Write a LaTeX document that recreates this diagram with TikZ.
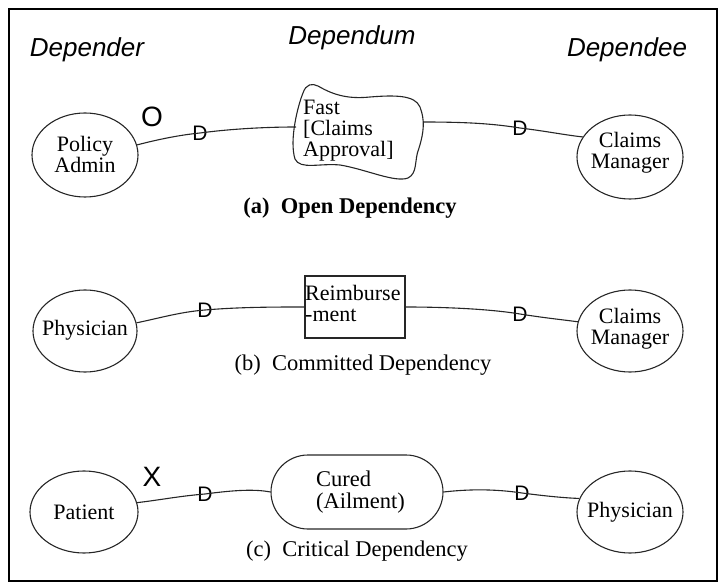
\documentclass[tikz,border=0pt]{standalone}
\usepackage{fontspec}
\setmainfont{Liberation Serif}
\newfontfamily\labelsans{Liberation Sans}
\usetikzlibrary{shapes.geometric,shapes.misc}

\begin{document}
\begin{tikzpicture}[x=1pt,y=-1pt,
  actor/.style={draw=black!85, line width=1.1pt, ellipse, minimum width=106pt, minimum height=84pt, inner sep=0pt},
  nodetext/.style={font=\fontsize{22}{21}\selectfont, align=center, inner sep=0pt},
  lefttext/.style={font=\fontsize{22}{21}\selectfont, align=left, inner sep=0pt, anchor=west},
  caption/.style={font=\fontsize{22.5}{26}\selectfont, inner sep=0pt},
  role/.style={font=\labelsans\itshape\fontsize{26}{30}\selectfont, inner sep=0pt},
  dmark/.style={font=\labelsans\fontsize{21}{22}\selectfont, inner sep=0pt},
  degree/.style={font=\labelsans\fontsize{28}{30}\selectfont, inner sep=0pt},
  link/.style={draw=black!85, line width=1.1pt},
]
\useasboundingbox (0,0) rectangle (724,583);
\draw[line width=2pt] (9,9) rectangle (717,581);

% column headings
\node[role] (hdr1) at (87,50) {Depender};
\node[role] (hdr2) at (352,38) {Dependum};
\node[role] (hdr3) at (627,50) {Dependee};

% (a) open dependency
\node[actor] (pa) at (85,155) {};
\node[nodetext] (pat) at (85,154) {Policy\\Admin};
\draw[link] (295,159) .. controls (289,140) and (298,105) .. (303,93)
  .. controls (306,84) and (312,83) .. (318,86)
  .. controls (335,96) and (350,99) .. (370,97)
  .. controls (395,95) and (415,95) .. (420,107)
  .. controls (425,120) and (424,132) .. (419,148)
  .. controls (414,160) and (418,173) .. (408,178)
  .. controls (395,183) and (365,169) .. (340,165)
  .. controls (320,163) and (300,170) .. (295,159) -- cycle;
\coordinate (cl) at (296,127);
\coordinate (cr) at (423,122);
\node[lefttext] (cloudt) at (303,131) {Fast\\{[}Claims\\Approval{]}};
\node[actor] (cma) at (630,157) {};
\node[nodetext] (cmat) at (630,153) {Claims\\Manager};
\node[dmark] (d1) at (200,133) {D};
\node[dmark] (d2) at (520,128) {D};
\node[degree] (mo) at (152,117) {O};
\draw[link] (pa.11) .. controls (160,139) and (180,135) .. (d1.center)
  .. controls (230,129) and (265,127) .. (cl);
\draw[link] (cr) .. controls (470,122) and (495,124) .. (d2.center)
  .. controls (545,131) and (565,135) .. (cma.157);
\node[caption, font=\bfseries\fontsize{22.5}{26}\selectfont] (capa) at (350,208) {(a)\ \ Open Dependency};

% (b) committed dependency
\node[actor, minimum width=104pt, minimum height=82pt] (phb) at (85,331) {};
\node[nodetext] (phbt) at (85,330) {Physician};
\node[draw=black!85, line width=1.1pt, rectangle, minimum width=100pt, minimum height=62pt, inner sep=0pt] (box) at (355,307) {};
\node[lefttext] (boxt) at (305,303) {Reimburse\\-ment};
\node[actor, minimum height=82pt] (cmb) at (630,331) {};
\node[nodetext] (cmbt) at (630,329) {Claims\\Manager};
\node[dmark] (d3) at (205,310) {D};
\node[dmark] (d4) at (520,314) {D};
\draw[link] (phb.9) .. controls (160,318) and (180,312) .. (d3.center)
  .. controls (240,307) and (275,307) .. (box.west);
\draw[link] (box.east) .. controls (445,307) and (490,309) .. (d4.center)
  .. controls (545,318) and (565,320) .. (cmb.170);
\node[caption] (capb) at (363,365) {(b)\ \ Committed Dependency};

% (c) critical dependency
\node[actor, minimum width=108pt, minimum height=82pt] (pt) at (84,512) {};
\node[nodetext] (ptt) at (84,512) {Patient};
\node[draw=black!85, line width=1.1pt, rounded rectangle, minimum width=172pt, minimum height=74pt, inner sep=0pt] (stad) at (357,492) {};
\node[lefttext, font=\fontsize{22.5}{22}\selectfont] (stadt) at (316,492) {Cured\\(Ailment)};
\node[actor, minimum height=82pt] (phc) at (630,512) {};
\node[nodetext] (phct) at (630,512) {Physician};
\node[dmark] (d5) at (205,494) {D};
\node[dmark] (d6) at (522,493) {D};
\node[degree] (mx) at (152,477) {X};
\draw[link] (pt.10) .. controls (160,500) and (180,496) .. (d5.center)
  .. controls (235,490) and (255,489) .. (stad.west);
\draw[link] (stad.east) .. controls (470,489) and (495,489) .. (d6.center)
  .. controls (545,496) and (565,498) .. (phc.165);
\node[caption] (capc) at (357,551) {(c)\ \ Critical Dependency};
\end{tikzpicture}
\end{document}
